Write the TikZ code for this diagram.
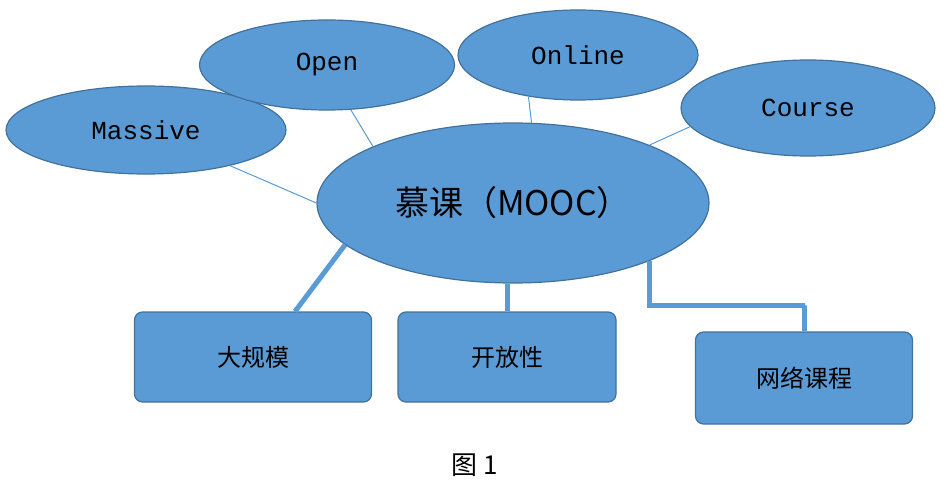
\documentclass[tikz,border=0pt]{standalone}
\usepackage{fontspec}
\setmainfont{Liberation Mono}
\newfontfamily\cjk{Noto Sans CJK SC}
\usetikzlibrary{shapes.geometric}
\definecolor{mblue}{RGB}{91,155,213}
\definecolor{mborder}{RGB}{65,113,156}
\tikzset{
  bubble/.style={ellipse,draw=mborder,fill=mblue,line width=1.2pt,inner sep=0pt,font=\fontsize{26}{28}\selectfont},
  topicbox/.style={draw=mborder,fill=mblue,line width=1.2pt,rounded corners=8pt,inner sep=0pt,font=\cjk\fontsize{24}{26}\selectfont},
  thinlink/.style={draw=mblue,line width=1pt},
  thicklink/.style={draw=mblue,line width=5pt}
}
\begin{document}
\begin{tikzpicture}[x=1pt,y=-1pt]
\useasboundingbox (0,0) rectangle (947,486);

% ellipses
\node[bubble,minimum width=280pt,minimum height=88pt] (massive) at (146,130) {Massive};
\node[bubble,minimum width=255pt,minimum height=90pt] (open) at (327,65) {Open};
\node[bubble,minimum width=240pt,minimum height=90pt] (online) at (578,55) {Online};
\node[bubble,minimum width=254pt,minimum height=96pt] (course) at (808,108) {Course};
\node[bubble,minimum width=392pt,minimum height=160pt,font=\cjk\fontsize{34}{36}\selectfont] (mooc) at (513,203) {慕课（MOOC）};

% boxes
\node[topicbox,minimum width=237pt,minimum height=90pt] (big) at (253,357) {大规模};
\node[topicbox,minimum width=218pt,minimum height=90pt] (openness) at (507,357) {开放性};
\node[topicbox,minimum width=217pt,minimum height=92pt] (network) at (804,378) {网络课程};

% links
\draw[thinlink] (massive.-23) -- (mooc.180);
\draw[thinlink] (open.-62) -- (mooc.158);
\draw[thinlink] (online.220) -- (mooc.77);
\draw[thinlink] (course.189) -- (mooc.23);
\draw[thicklink] (mooc.194) -- ([xshift=42pt]big.north);
\draw[thicklink] (openness.north) -- (openness.north |- mooc.south);
\draw[thicklink] (mooc.-23) |- (805,305) -| (network.north);

\node[font=\cjk\fontsize{26}{28}\selectfont] (caption) at (475,465) {图 1};
\end{tikzpicture}
\end{document}
